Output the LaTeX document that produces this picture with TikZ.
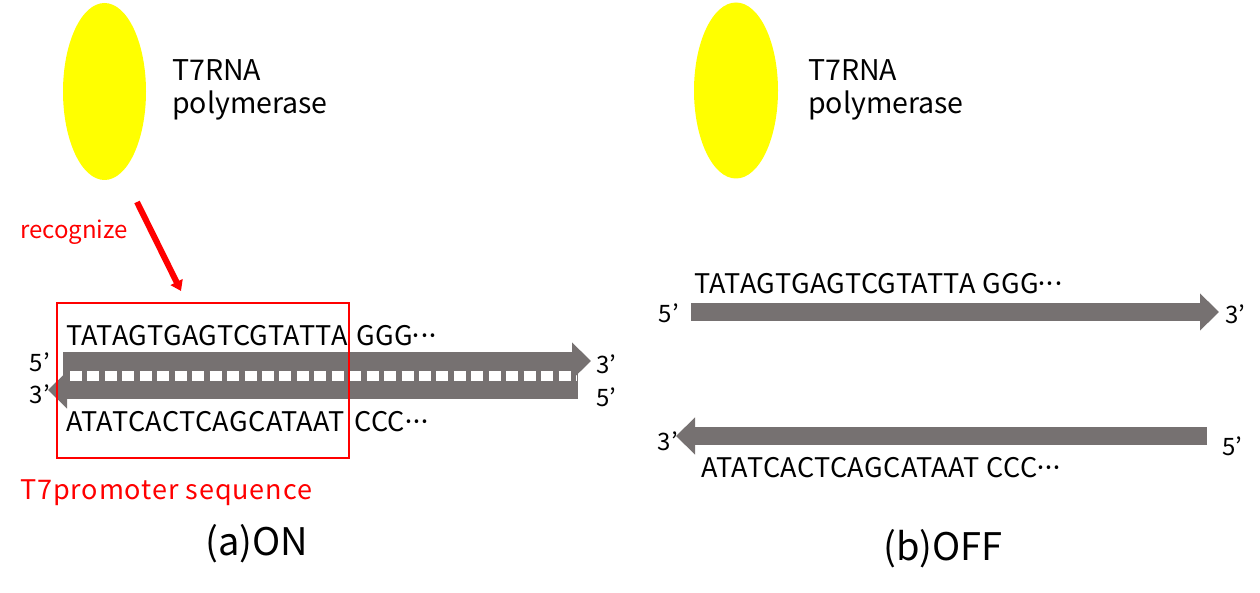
\documentclass[tikz,border=0pt]{standalone}
\usepackage{fontspec}
\setmainfont{Noto Sans CJK JP}
\newfontfamily\seqfont[LetterSpace=1.7]{Noto Sans CJK JP}
\newfontfamily\promfont[LetterSpace=3.3]{Noto Sans CJK JP}
\usetikzlibrary{arrows.meta}
\definecolor{dna}{HTML}{767171}
\definecolor{ry}{HTML}{FFFF00}
\definecolor{rr}{HTML}{FF0000}
\newcommand{\mdots}{\kern-4pt·\kern-7pt·\kern-7pt·}
\begin{document}
\begin{tikzpicture}[x=1pt,y=-1pt,
  strand/.style={draw=dna, line width=18pt, -{Triangle[length=19pt,width=36pt]}},
  seq/.style={font=\seqfont\fontsize{27}{32}\selectfont, inner sep=0pt, anchor=base west},
  endlbl/.style={font=\fontsize{24}{28}\selectfont, inner sep=0pt},
  title/.style={font=\fontsize{28.5}{33}\selectfont, inner sep=0pt, anchor=base west, align=left},
  captxt/.style={font=\fontsize{38}{42}\selectfont, inner sep=0pt, anchor=base west},
  redtxt/.style={text=rr, inner sep=0pt, anchor=base west}]
\useasboundingbox (0,0) rectangle (1260,593);
% ---------- (a) ON ----------
\fill[ry] (104.5,91.5) ellipse [x radius=41.5pt, y radius=88.5pt];
\node[title] (tA) at (172,81) {T7RNA};
\node[title] (tB) at (172,114) {polymerase};
\node[redtxt, font=\fontsize{24}{28}\selectfont] (rec) at (20,239) {recognize};
\coordinate (r1) at (137,202);
\coordinate (r2) at (181,291);
\draw[rr, line width=6pt, -{Triangle[length=10pt,width=13pt]}] (r1) -- (r2);
% band
\fill[dna] (63,366) rectangle (578,386);
\draw[white, line width=11pt, dash pattern=on 12pt off 5.45pt] (70,376.5) -- (577,376.5);
\coordinate (a5) at (63,361);
\coordinate (a3) at (591,361);
\coordinate (b5) at (578,390);
\coordinate (b3) at (48,390);
\draw[strand] (a5) -- (a3);
\draw[strand] (b5) -- (b3);
\node[seq] (s1) at (66,345) {TATAGTGAGTCGTATTA};
\node[seq] (s2) at (356,345) {GGG\mdots};
\node[seq] (s3) at (66,431) {ATATCACTCAGCATAAT};
\node[seq] (s4) at (354,431) {CCC\mdots};
\node[endlbl, anchor=east] (e1) at (50,362) {5’};
\node[endlbl, anchor=west] (e2) at (596,364) {3’};
\node[endlbl, anchor=east] (e3) at (50,394) {3’};
\node[endlbl, anchor=west] (e4) at (596,397) {5’};
\draw[rr, line width=2pt] (57,303) rectangle (349,458);
\node[redtxt, font=\promfont\fontsize{27}{32}\selectfont] (prom) at (20,499) {T7promoter sequence};
\node[captxt] (capA) at (205,555) {(a)ON};
% ---------- (b) OFF ----------
\fill[ry] (736,90.5) ellipse [x radius=42pt, y radius=88pt];
\node[title] (tC) at (808,81) {T7RNA};
\node[title] (tD) at (808,114) {polymerase};
\coordinate (c5) at (691,312);
\coordinate (c3) at (1219,312);
\coordinate (d5) at (1207,436);
\coordinate (d3) at (676,436);
\draw[strand] (c5) -- (c3);
\draw[strand] (d5) -- (d3);
\node[seq] (s5) at (694,294) {TATAGTGAGTCGTATTA GGG\mdots};
\node[seq] (s6) at (701,477) {ATATCACTCAGCATAAT CCC\mdots};
\node[endlbl, anchor=east] (e5) at (679,313) {5’};
\node[endlbl, anchor=west] (e6) at (1225,314) {3’};
\node[endlbl, anchor=east] (e7) at (678,441) {3’};
\node[endlbl, anchor=west] (e8) at (1222,446) {5’};
\node[captxt] (capB) at (883,560) {(b)OFF};
\end{tikzpicture}
\end{document}
